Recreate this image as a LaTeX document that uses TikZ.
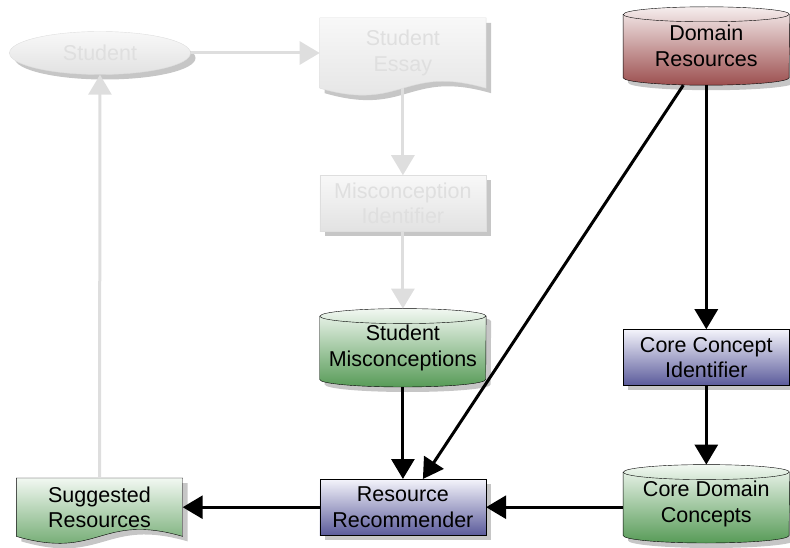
\documentclass[tikz,border=0pt]{standalone}
\usepackage{fontspec}
\setmainfont{Liberation Sans}
\usetikzlibrary{arrows.meta, positioning, shapes.geometric, shadows, backgrounds}

\definecolor{fadetop}{HTML}{F8F8F8}
\definecolor{fadebot}{HTML}{E2E2E2}
\definecolor{fadeline}{HTML}{DEDEDE}
\definecolor{fadetext}{HTML}{DFDFDF}
\definecolor{shadowgray}{HTML}{C6C6C6}
\definecolor{redtop}{HTML}{F6EEEE}
\definecolor{redbot}{HTML}{9C4F4F}
\definecolor{greentop}{HTML}{F2F8F2}
\definecolor{greenbot}{HTML}{579B57}
\definecolor{bluetop}{HTML}{F4F4FB}
\definecolor{bluebot}{HTML}{5B5B9B}

% wavy outline of a document node
\newcommand{\docshape}[1]{(#1.north west) -- (#1.north east) -- (#1.south east)
    .. controls ([xshift=-83pt, yshift=24pt]#1.south east) and ([xshift=83pt, yshift=-24pt]#1.south west) .. (#1.south west) -- cycle}
% outline of a data store (cylinder) node, and the front rim of its top
\newcommand{\storeshape}[1]{([yshift=-7.5pt]#1.north west) -- ([yshift=7.5pt]#1.south west)
    arc[start angle=180, end angle=360, x radius=83pt, y radius=7.5pt] -- ([yshift=-7.5pt]#1.north east)
    arc[start angle=0, end angle=180, x radius=83pt, y radius=7.5pt] -- cycle}
\newcommand{\storerim}[1]{([yshift=-7.5pt]#1.north west) arc[start angle=180, end angle=360, x radius=83pt, y radius=7.5pt]}

\begin{document}
\begin{tikzpicture}[
    x=1pt, y=-1pt,
    font=\fontsize{21.5}{25.5}\selectfont,
    % Style definitions
    shadowed/.style={drop shadow={shadow xshift=5pt, shadow yshift=-5pt, fill=shadowgray, opacity=1}},
    box/.style={rectangle, draw, thin, minimum width=166pt, minimum height=56pt, inner sep=0pt, align=center, shadowed},
    store/.style={rectangle, minimum width=166pt, minimum height=78pt, inner sep=0pt, align=center, execute at begin node={\rule{0pt}{25pt}}},
    docnode/.style={rectangle, minimum width=166pt, inner sep=0pt, align=center},
    faded/.style={draw=fadeline, top color=fadetop, bottom color=fadebot, text=fadetext},
    redfill/.style={top color=redtop, bottom color=redbot},
    greenfill/.style={top color=greentop, bottom color=greenbot},
    bluefill/.style={top color=bluetop, bottom color=bluebot},
    arrow/.style={-{Triangle[length=20pt, width=23pt]}, line width=3pt, black},
    fadedarrow/.style={arrow, draw=fadeline},
]
\useasboundingbox (0,0) rectangle (790,548);

%% ---------- STUDENT SIDE (FADED) ----------
\node[ellipse, draw, thin, minimum width=181pt, minimum height=43pt, inner sep=0pt, shadowed, faded] (student) at (100,53) {Student};
\node[docnode, minimum height=70pt, text=fadetext, right=129pt of student] (essay) {Student\\Essay};
\node[box, faded, below=87pt of essay] (misc_id) {Misconception\\Identifier};

%% ---------- STORES ----------
\node[store, below=77pt of misc_id] (student_misc) {Student\\Misconceptions};
\node[store, right=137pt of essay, yshift=7pt] (domain) {Domain\\Resources};

%% ---------- PROCESSING ----------
\node[box, bluefill, below=244pt of domain] (core_id) {Core Concept\\Identifier};
\node[store, below=79pt of core_id] (core_concepts) {Core Domain\\Concepts};
\node[box, bluefill, below=92pt of student_misc] (recommender) {Resource\\Recommender};

%% ---------- OUTPUT ----------
\node[docnode, minimum height=58pt, left=137pt of recommender] (suggested) {Suggested\\Resources};

% document and store outlines
\begin{scope}[on background layer]
    \draw[thin, shadowed, faded] \docshape{essay};
    \draw[thin, shadowed, greenfill] \docshape{suggested};
    \draw[thin, shadowed, greenfill] \storeshape{student_misc};
    \draw[thin, shadowed, redfill] \storeshape{domain};
    \draw[thin, shadowed, greenfill] \storeshape{core_concepts};
    \draw[thin] \storerim{student_misc} \storerim{domain} \storerim{core_concepts};
\end{scope}

%% ========== ARROWS ==========

% faded loop
\draw[fadedarrow] (student) -- (essay);
\draw[fadedarrow] (essay) -- (misc_id);
\draw[fadedarrow] (misc_id) -- (student_misc);
\draw[fadedarrow] (suggested) -- (student);

% domain branch
\draw[arrow] (domain) -- (core_id);
\draw[arrow] (core_id) -- (core_concepts);
\draw[arrow] ([xshift=-23pt]domain.south) -- ([xshift=20pt]recommender.north);

% into and out of the recommender
\draw[arrow] (student_misc) -- (recommender);
\draw[arrow] (core_concepts.west |- recommender.east) -- (recommender.east);
\draw[arrow] (recommender) -- (suggested);

\end{tikzpicture}
\end{document}
